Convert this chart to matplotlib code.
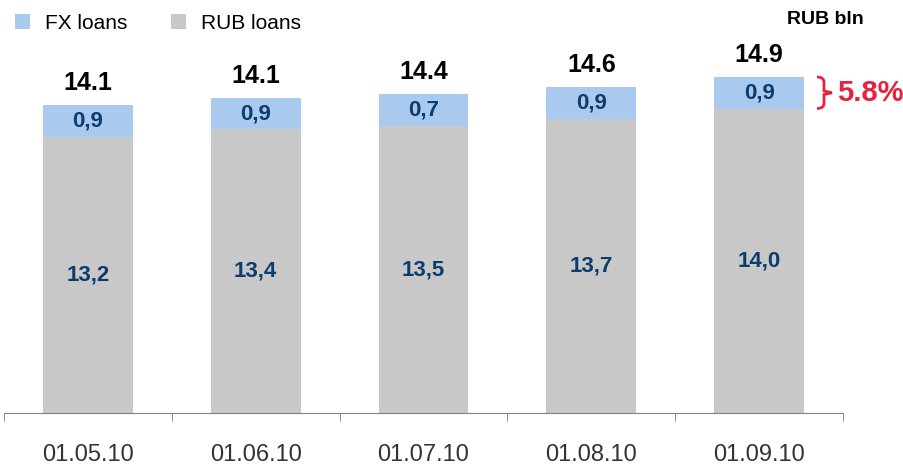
import numpy as np
import matplotlib
matplotlib.use('Agg')
from matplotlib import pyplot as plt
from matplotlib.path import Path
from matplotlib.patches import PathPatch
from matplotlib.transforms import blended_transform_factory

plt.rcParams['font.family'] = ['Liberation Sans', 'DejaVu Sans']

dates = ['01.05.10', '01.06.10', '01.07.10', '01.08.10', '01.09.10']
rub_loans = [13.2, 13.4, 13.5, 13.7, 14.0]
fx_loans = [0.9, 0.9, 0.9, 0.9, 0.9]
rub_labels = ['13,2', '13,4', '13,5', '13,7', '14,0']
fx_labels = ['0,9', '0,9', '0,7', '0,9', '0,9']
totals = ['14.1', '14.1', '14.4', '14.6', '14.9']
fx_share = '5.8%'

FX_COLOR = '#A9C9EE'
RUB_COLOR = '#C8C8C8'
NAVY = '#0B3C6E'
RED = '#E8213F'
base = 5.3

fig = plt.figure(figsize=(9.04, 4.65), dpi=100)
ax = fig.add_axes([4 / 904, 52 / 465, 839 / 904, 413 / 465])

x = np.arange(len(dates))
rub = np.array(rub_loans) - base
fx = np.array(fx_loans)
width = 0.536
b_rub = ax.bar(x, rub, width, bottom=base, color=RUB_COLOR, label='RUB loans')
b_fx = ax.bar(x, fx, width, bottom=base + rub, color=FX_COLOR, label='FX loans')

for i in range(len(dates)):
  ax.text(x[i], base + rub[i] / 2, rub_labels[i], ha='center', va='center',
          fontsize=16, fontweight='bold', color=NAVY)
  ax.text(x[i], base + rub[i] + fx[i] / 2, fx_labels[i], ha='center', va='center',
          fontsize=16, fontweight='bold', color=NAVY)
  ax.annotate(totals[i], (x[i], base + rub[i] + fx[i]), xytext=(0, 16),
              textcoords='offset points', ha='center', va='center',
              fontsize=18, fontweight='bold', color='black')

ax.set_xlim(-0.5, len(dates) - 0.5)
ax.set_ylim(base, base + 413 / 35)
for s in ['top', 'right', 'left']:
  ax.spines[s].set_visible(False)
ax.spines['bottom'].set_color('#808080')
ax.set_yticks([])
ax.set_xticks(x)
ax.set_xticklabels(dates, fontsize=17, color='#333333')
ax.tick_params(axis='x', which='major', length=0, pad=22)
ax.set_xticks(np.arange(-0.5, len(dates)), minor=True)
ax.tick_params(axis='x', which='minor', length=6, color='#808080', direction='out')

# brace next to the last FX segment
trans = blended_transform_factory(fig.transFigure, ax.transData)
y0 = base + rub[-1]
y1 = y0 + fx[-1]
ym = (y0 + y1) / 2
xl, xv, xr = 817 / 904, 824 / 904, 832 / 904
verts = [(xl, y1), (xv, y1), (xv, y1 - 0.15), (xv, ym + 0.05), (xr, ym),
         (xv, ym - 0.05), (xv, y0 + 0.15), (xv, y0), (xl, y0)]
codes = [Path.MOVETO, Path.CURVE3, Path.CURVE3, Path.LINETO, Path.LINETO,
         Path.LINETO, Path.LINETO, Path.CURVE3, Path.CURVE3]
ax.add_patch(PathPatch(Path(verts, codes), transform=trans, fill=False,
                       edgecolor=RED, linewidth=2, clip_on=False))
ax.text(837 / 904, ym, fx_share, transform=trans, ha='left', va='center',
        fontsize=21, fontweight='bold', color=RED)

fig.text(825 / 904, 1 - 20 / 465, 'RUB bln', ha='center', va='center',
         fontsize=14, fontweight='bold', color='black')

fig.legend(handles=[b_fx, b_rub], labels=['FX loans', 'RUB loans'], ncol=2,
           loc='upper left', bbox_to_anchor=(15 / 904, 1 - 14 / 465),
           frameon=False, fontsize=15, handlelength=0.72, handleheight=0.72,
           handletextpad=0.72, columnspacing=2.1, borderpad=0, borderaxespad=0)

fig.savefig('out.png', dpi=100)
